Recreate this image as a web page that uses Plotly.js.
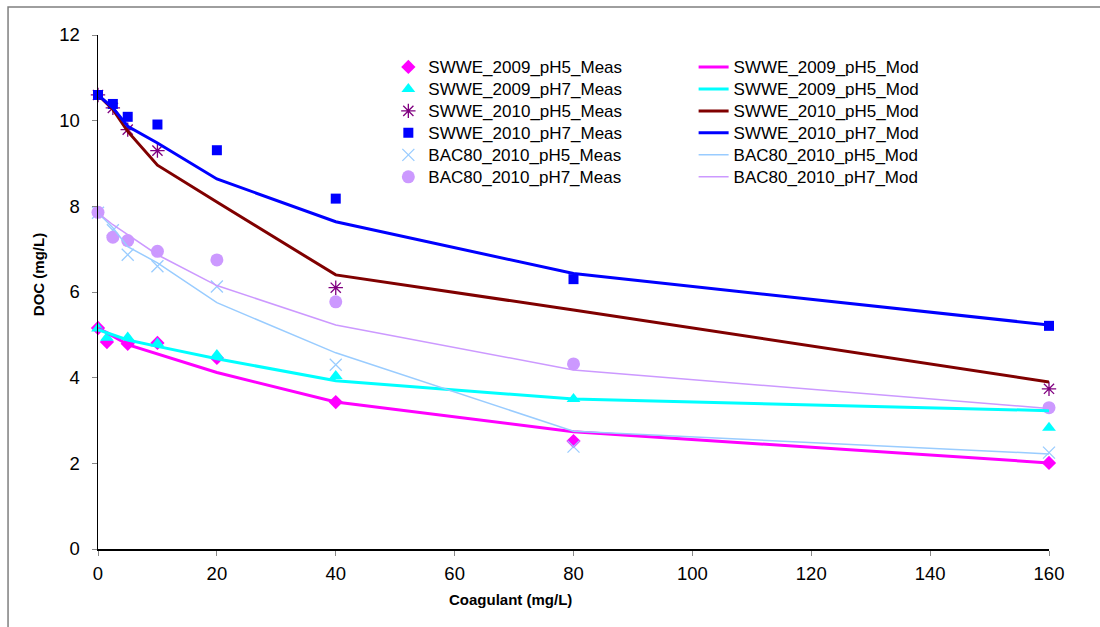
<!DOCTYPE html>
<html>
<head>
<meta charset="utf-8">
<script src="https://cdn.plot.ly/plotly-3.0.1.min.js"></script>
<style>html,body{margin:0;padding:0;background:#fff;}#chart{width:1100px;height:627px;}</style>
</head>
<body>
<div id="chart"></div>
<script>
// Coagulant doses (mg/L)
const x2009 = [0, 1.5, 5, 10, 20, 40, 80, 160];
const x2010 = [0, 2.5, 5, 10, 20, 40, 80, 160];

// Measured DOC (mg/L)
const swwe2009pH5Meas = [5.16, 4.83, 4.79, 4.81, 4.46, 3.43, 2.52, 2.01];
const swwe2009pH7Meas = [5.15, 4.93, 4.94, 4.80, 4.53, 4.04, 3.50, 2.83];
const swwe2010pH5Meas = [10.6, 10.3, 9.79, 9.30, null, 6.10, null, 3.74];
const swwe2010pH7Meas = [10.6, 10.39, 10.09, 9.91, 9.31, 8.18, 6.30, 5.21];
const bac2010pH5Meas  = [7.85, 7.44, 6.87, 6.60, 6.13, 4.30, 2.39, 2.25];
const bac2010pH7Meas  = [7.86, 7.28, 7.20, 6.95, 6.75, 5.77, 4.32, 3.30];

// Modelled DOC (mg/L)
const swwe2009pH5Mod = [5.15, 5.05, 4.77, 4.55, 4.12, 3.43, 2.74, 2.01];
const swwe2009pH7Mod = [5.12, 5.05, 4.88, 4.73, 4.44, 3.93, 3.50, 3.23];
const swwe2010pH5Mod = [10.6, 10.26, 9.75, 8.96, 8.10, 6.40, 5.58, 3.90];
const swwe2010pH7Mod = [10.6, 10.30, 9.87, 9.48, 8.64, 7.64, 6.43, 5.23];
const bac2010pH5Mod  = [7.85, 7.50, 7.06, 6.68, 5.75, 4.58, 2.75, 2.22];
const bac2010pH7Mod  = [7.85, 7.57, 7.34, 6.87, 6.15, 5.23, 4.18, 3.28];

const measNames = ["SWWE_2009_pH5_Meas","SWWE_2009_pH7_Meas","SWWE_2010_pH5_Meas","SWWE_2010_pH7_Meas","BAC80_2010_pH5_Meas","BAC80_2010_pH7_Meas"];
const modNames  = ["SWWE_2009_pH5_Mod","SWWE_2009_pH5_Mod","SWWE_2010_pH5_Mod","SWWE_2010_pH7_Mod","BAC80_2010_pH5_Mod","BAC80_2010_pH7_Mod"];

function label(s) { return '<span style="font-size:17px">' + s + '</span>'; }
function meas(name, x, y, symbol, color, size, lw) {
  return {type:'scatter', mode:'markers', name:label(name), x, y, legend:'legend', cliponaxis:false,
    marker:{symbol, color, size, line:{color, width: lw || 0}}};
}
function mod(name, x, y, color, width) {
  return {type:'scatter', mode:'lines', name:label(name), x, y, legend:'legend2', cliponaxis:false,
    line:{color, width}};
}

const traces = [
  meas(measNames[0], x2009, swwe2009pH5Meas, 'diamond', '#FF00FF', 11),
  meas(measNames[1], x2009, swwe2009pH7Meas, 'triangle-up', '#00FFFF', 12),
  meas(measNames[2], x2010, swwe2010pH5Meas, 'asterisk-open', '#800080', 12, 1.3),
  meas(measNames[3], x2010, swwe2010pH7Meas, 'square', '#0000FF', 10),
  meas(measNames[4], x2010, bac2010pH5Meas, 'x-thin-open', '#99CCFF', 12, 1.3),
  meas(measNames[5], x2010, bac2010pH7Meas, 'circle', '#CC99FF', 13),
  mod(modNames[0], x2009, swwe2009pH5Mod, '#FF00FF', 3),
  mod(modNames[1], x2009, swwe2009pH7Mod, '#00FFFF', 3),
  mod(modNames[2], x2010, swwe2010pH5Mod, '#800000', 3),
  mod(modNames[3], x2010, swwe2010pH7Mod, '#0000FF', 3),
  mod(modNames[4], x2010, bac2010pH5Mod, '#99CCFF', 1.5),
  mod(modNames[5], x2010, bac2010pH7Mod, '#CC99FF', 1.5)
];

const font = 'Liberation Sans, Arial, sans-serif';
const layout = {
  width:1100, height:627,
  margin:{l:98, r:51, t:35, b:78},
  paper_bgcolor:'#fff', plot_bgcolor:'#fff',
  font:{family:font, color:'#000'},
  showlegend:true,
  xaxis:{range:[0,160], dtick:20, tick0:0, showgrid:false, zeroline:false,
    showline:true, linecolor:'#000', linewidth:1.5, ticks:'outside', ticklen:5, tickcolor:'#888',
    tickfont:{size:18.5, family:font}, ticklabelstandoff:2},
  yaxis:{range:[0,12], dtick:2, tick0:0, showgrid:false, zeroline:false,
    showline:true, linecolor:'#000', linewidth:1.5, ticks:'outside', ticklen:5, tickcolor:'#888',
    tickfont:{size:18.5, family:font}, ticklabelstandoff:8},
  legend:{x:0.3053, y:0.969, xanchor:'left', yanchor:'top', bgcolor:'rgba(0,0,0,0)',
    font:{size:14.6, family:font}},
  legend2:{x:0.6263, y:0.969, xanchor:'left', yanchor:'top', bgcolor:'rgba(0,0,0,0)',
    font:{size:14.6, family:font}},
  annotations:[
    {text:'<b>Coagulant (mg/L)</b>', xref:'paper', yref:'paper', x:0.434, y:-0.099,
      xanchor:'center', yanchor:'middle', showarrow:false, font:{size:15, family:font}},
    {text:'<b>DOC (mg/L)</b>', xref:'paper', yref:'paper', x:-0.063, y:0.533, textangle:-90,
      xanchor:'center', yanchor:'middle', showarrow:false, font:{size:15, family:font}}
  ],
  shapes:[
    {type:'rect', xref:'paper', yref:'paper', x0:-0.0946, x1:1.08, y0:-0.2, y1:1.0545,
      line:{color:'#7f7f7f', width:1.5}, fillcolor:'rgba(0,0,0,0)', layer:'below'}
  ]
};

Plotly.newPlot('chart', traces, layout, {displayModeBar:false, staticPlot:true});
</script>
</body>
</html>
